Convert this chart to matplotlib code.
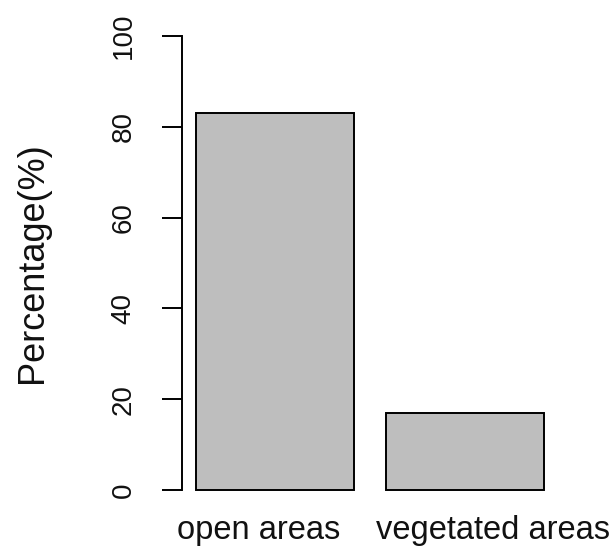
import matplotlib
matplotlib.use("Agg")
import matplotlib.pyplot as plt
import matplotlib.transforms as mtransforms

categories = ["open areas", "vegetated areas"]
percentages = [83, 17]
y_ticks = [0, 20, 40, 60, 80, 100]

plt.rcParams["font.family"] = ["Liberation Sans", "DejaVu Sans"]

fig = plt.figure(figsize=(6.16, 5.48), dpi=100)
ax = fig.add_axes([0.2948, 0.0726, 0.9065 - 0.2948, 0.9675 - 0.0726])

# barplot-style layout: width 1, gap 0.2
lefts = [0.2 + i * 1.2 for i in range(len(categories))]
centers = [l + 0.5 for l in lefts]
ax.bar(centers, percentages, width=1.0, color="#BEBEBE",
       edgecolor="black", linewidth=1.4)

ax.set_xlim(0.112, 2.488)
ax.set_ylim(-4, 104)

for s in ["top", "right", "bottom"]:
    ax.spines[s].set_visible(False)
ax.spines["left"].set_bounds(0, 100)
ax.spines["left"].set_linewidth(1.4)

ax.set_yticks(y_ticks)
ax.set_yticklabels([str(t) for t in y_ticks], rotation=90, va="center",
                   fontsize=20, color="#111111")
ax.tick_params(axis="y", length=14.5, width=1.4, pad=18)

# category names under the bars, spread slightly outward
ax.set_xticks([])
name_shift = [-16, 28]
trans = mtransforms.blended_transform_factory(ax.transData, fig.transFigure)
for c, name, dx in zip(centers, categories, name_shift):
    off = mtransforms.offset_copy(trans, fig=fig, x=dx, y=0, units="dots")
    ax.text(c, 9 / 548, name, transform=off, ha="center", va="baseline",
            fontsize=23.5, color="#111111")

ax.set_ylabel("Percentage(%)", fontsize=26, color="#111111")
ax.yaxis.set_label_coords(-0.349, 0.5)

fig.savefig("out.png", dpi=100)
